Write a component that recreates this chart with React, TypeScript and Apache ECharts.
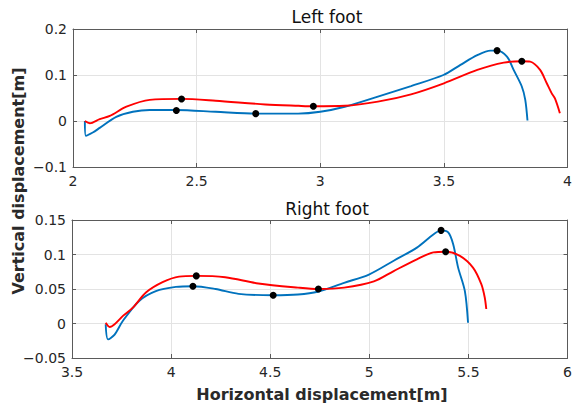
import React, { useEffect, useRef } from "react";
import * as echarts from "echarts";

const leftBlueX = [2.048, 2.052, 2.08, 2.108, 2.175, 2.242, 2.31, 2.418, 2.577, 2.739, 2.831, 2.91, 3.0, 3.099, 3.233, 3.367, 3.498, 3.567, 3.635, 3.688, 3.715, 3.755, 3.782, 3.815, 3.829, 3.838];
const leftBlueY = [0.0, -0.032, -0.025, -0.015, 0.009, 0.02, 0.024, 0.024, 0.02, 0.016, 0.016, 0.016, 0.02, 0.031, 0.053, 0.076, 0.1, 0.122, 0.143, 0.153, 0.153, 0.14, 0.111, 0.075, 0.046, 0.001];

const leftRedX = [2.048, 2.068, 2.108, 2.149, 2.216, 2.31, 2.439, 2.577, 2.778, 2.912, 2.972, 3.099, 3.233, 3.367, 3.5, 3.635, 3.742, 3.815, 3.849, 3.889, 3.916, 3.936, 3.949, 3.969];
const leftRedY = [0.0, -0.005, 0.004, 0.011, 0.031, 0.046, 0.048, 0.044, 0.036, 0.033, 0.032, 0.033, 0.042, 0.058, 0.082, 0.111, 0.127, 0.13, 0.129, 0.111, 0.082, 0.06, 0.049, 0.017];

const rightBlueX = [3.67, 3.682, 3.715, 3.757, 3.84, 3.923, 4.024, 4.11, 4.224, 4.34, 4.515, 4.64, 4.74, 4.873, 4.998, 5.123, 5.24, 5.323, 5.362, 5.398, 5.423, 5.448, 5.482, 5.498];
const rightBlueY = [-0.001, -0.023, -0.016, 0.004, 0.033, 0.047, 0.053, 0.054, 0.05, 0.043, 0.041, 0.042, 0.046, 0.059, 0.071, 0.091, 0.11, 0.129, 0.135, 0.132, 0.115, 0.081, 0.047, 0.001];

const rightRedX = [3.67, 3.69, 3.715, 3.757, 3.807, 3.873, 3.957, 4.04, 4.127, 4.273, 4.44, 4.64, 4.743, 4.873, 5.023, 5.123, 5.24, 5.323, 5.385, 5.457, 5.523, 5.565, 5.582, 5.59];
const rightRedY = [0.001, -0.005, -0.001, 0.011, 0.023, 0.045, 0.06, 0.068, 0.069, 0.067, 0.058, 0.052, 0.05, 0.052, 0.061, 0.076, 0.093, 0.103, 0.104, 0.098, 0.081, 0.057, 0.038, 0.021];

const leftDotsX = [2.418, 2.739, 3.715, 2.439, 2.972, 3.815];
const leftDotsY = [0.023, 0.016, 0.153, 0.048, 0.032, 0.13];
const rightDotsX = [4.11, 4.515, 5.362, 4.127, 4.743, 5.385];
const rightDotsY = [0.054, 0.041, 0.135, 0.069, 0.05, 0.104];

const titles = ["Left foot", "Right foot"];
const yLabel = "Vertical displacement[m]";
const xLabel = "Horizontal displacement[m]";

const FONT = "'DejaVu Sans', sans-serif";
const BLUE = "#0072BD";
const RED = "#FF0000";
const AXIS = "#5a5a5a";
const TEXT = "#262626";

const zip = (xs: number[], ys: number[]) => xs.map((x, i) => [x, ys[i]]);
const fmt = (v: number) => {
  const s = String(Math.round(v * 1000) / 1000);
  return s.replace("-", "\u2212");
};

export default function App() {
  const ref = useRef<HTMLDivElement>(null);
  useEffect(() => {
    if (!ref.current) return;
    const chart = echarts.init(ref.current, undefined, { renderer: "svg" });
    const grids = [
      { left: 73, right: 4, top: 29, height: 138 },
      { left: 72, right: 4, top: 220, height: 138 },
    ];
    const xRanges = [
      [2, 4, 0.5],
      [3.5, 6, 0.5],
    ];
    const yRanges = [
      [-0.1, 0.2, 0.1],
      [-0.05, 0.15, 0.05],
    ];
    const xAxis: any[] = [];
    const yAxis: any[] = [];
    for (let g = 0; g < 2; g++) {
      const [xmin, xmax, xi] = xRanges[g];
      const [ymin, ymax, yi] = yRanges[g];
      xAxis.push({
        type: "value", gridIndex: g, min: xmin, max: xmax, interval: xi, position: "bottom",
        axisLine: { show: true, onZero: false, lineStyle: { color: AXIS, width: 1 } },
        axisTick: { show: true, inside: true, length: 4, lineStyle: { color: AXIS } },
        axisLabel: { color: TEXT, fontFamily: FONT, fontSize: 14, margin: 7, formatter: fmt },
        splitLine: { show: true, lineStyle: { color: "#e3e3e3", width: 1 } },
      });
      xAxis.push({
        type: "value", gridIndex: g, min: xmin, max: xmax, interval: xi, position: "top",
        axisLine: { show: true, onZero: false, lineStyle: { color: AXIS, width: 1 } },
        axisTick: { show: true, inside: true, length: 4, lineStyle: { color: AXIS } },
        axisLabel: { show: false }, splitLine: { show: false },
      });
      yAxis.push({
        type: "value", gridIndex: g, min: ymin, max: ymax, interval: yi, position: "left",
        axisLine: { show: true, onZero: false, lineStyle: { color: AXIS, width: 1 } },
        axisTick: { show: true, inside: true, length: 4, lineStyle: { color: AXIS } },
        axisLabel: { color: TEXT, fontFamily: FONT, fontSize: 14, margin: 6, formatter: fmt },
        splitLine: { show: true, lineStyle: { color: "#e3e3e3", width: 1 } },
      });
      yAxis.push({
        type: "value", gridIndex: g, min: ymin, max: ymax, interval: yi, position: "right",
        axisLine: { show: true, onZero: false, lineStyle: { color: AXIS, width: 1 } },
        axisTick: { show: true, inside: true, length: 4, lineStyle: { color: AXIS } },
        axisLabel: { show: false }, splitLine: { show: false },
      });
    }
    const line = (data: number[][], color: string, ax: number) => ({
      type: "line", xAxisIndex: ax, yAxisIndex: ax, data, showSymbol: false, symbol: "none",
      smooth: 0.3,
      lineStyle: { color, width: 1.9 }, z: 2,
    });
    const dots = (data: number[][], ax: number) => ({
      type: "scatter", xAxisIndex: ax, yAxisIndex: ax, data, symbolSize: 7,
      itemStyle: { color: "#000", opacity: 1 }, z: 5,
    });
    chart.setOption({
      animation: false,
      backgroundColor: "#fff",
      grid: grids,
      title: [
        { text: titles[0], left: 322, top: 3, textAlign: "center", textStyle: { fontFamily: FONT, fontSize: 17, fontWeight: "normal", color: "#111" } },
        { text: titles[1], left: 322, top: 195, textAlign: "center", textStyle: { fontFamily: FONT, fontSize: 17, fontWeight: "normal", color: "#111" } },
      ],
      xAxis, yAxis,
      series: [
        line(zip(leftBlueX, leftBlueY), BLUE, 0),
        line(zip(leftRedX, leftRedY), RED, 0),
        dots(zip(leftDotsX, leftDotsY), 0),
        line(zip(rightBlueX, rightBlueY), BLUE, 2),
        line(zip(rightRedX, rightRedY), RED, 2),
        dots(zip(rightDotsX, rightDotsY), 2),
      ],
      graphic: [
        {
          type: "text", x: 18, y: 181, rotation: Math.PI / 2,
          style: { text: yLabel, fontFamily: FONT, fontSize: 16, fontWeight: "bold", fill: "#2a2a2a", align: "center", verticalAlign: "middle" },
        },
        {
          type: "text", x: 322, y: 394,
          style: { text: xLabel, fontFamily: FONT, fontSize: 16, fontWeight: "bold", fill: "#2a2a2a", align: "center", verticalAlign: "middle" },
        },
      ],
    });
    return () => chart.dispose();
  }, []);
  return <div ref={ref} style={{ position: "fixed", left: 0, top: 0, width: 575, height: 406 }} />;
}
